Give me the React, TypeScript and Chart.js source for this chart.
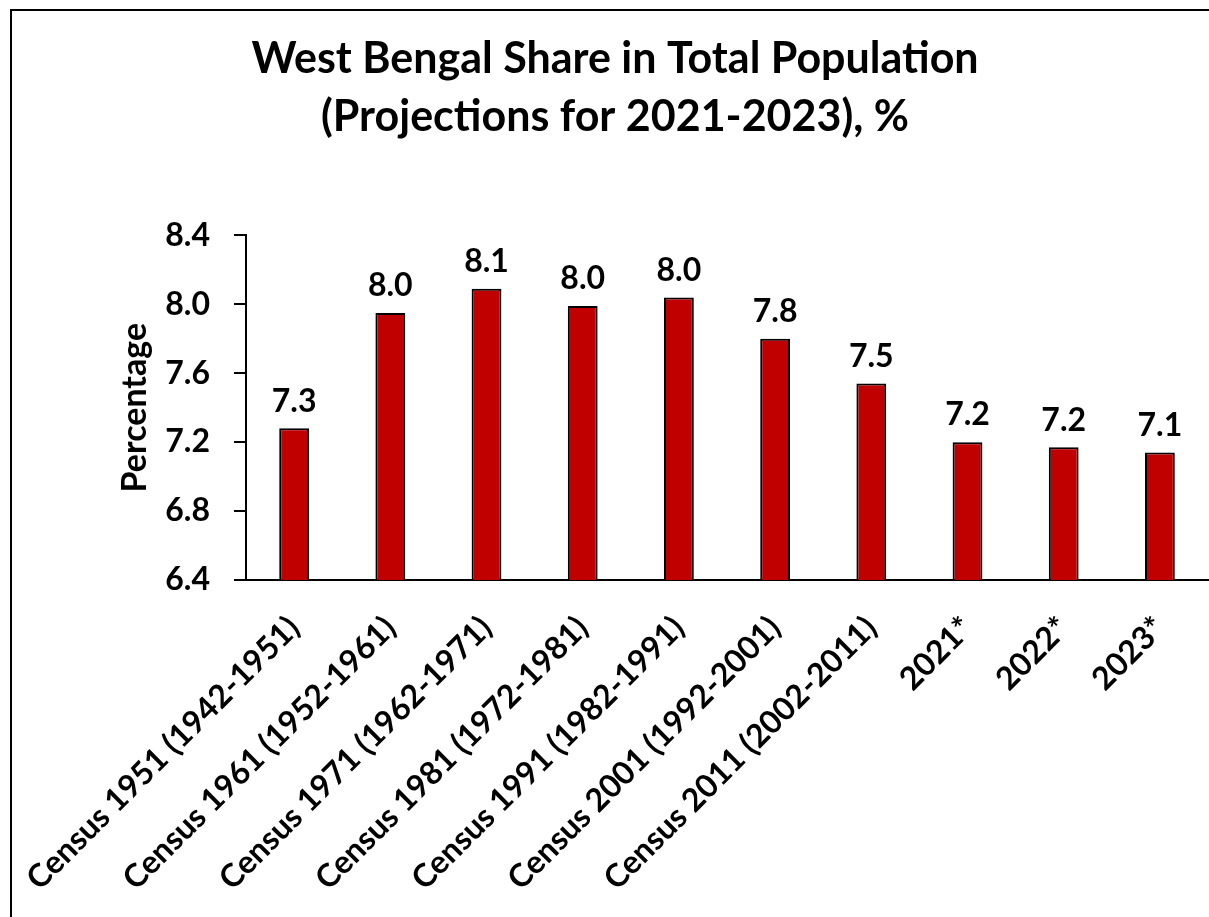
import React, { useEffect, useRef } from "react";
import { Chart, registerables } from "chart.js";

Chart.register(...registerables);

const categories = [
  "Census 1951 (1942-1951)",
  "Census 1961 (1952-1961)",
  "Census 1971 (1962-1971)",
  "Census 1981 (1972-1981)",
  "Census 1991 (1982-1991)",
  "Census 2001 (1992-2001)",
  "Census 2011 (2002-2011)",
  "2021*",
  "2022*",
  "2023*",
];
const shareValues = [7.28, 7.95, 8.09, 7.99, 8.04, 7.8, 7.54, 7.2, 7.17, 7.14];
const yMin = 6.4;
const yMax = 8.4;
const yStep = 0.4;
const titleLines = ["West Bengal Share in Total Population", "(Projections for 2021-2023), %"];
const yAxisTitle = "Percentage";

const FONT = "Lato, 'Open Sans', sans-serif";

const valueLabels = {
  id: "valueLabels",
  afterDatasetsDraw(chart: any) {
    const ctx = chart.ctx;
    const meta = chart.getDatasetMeta(0);
    const data = chart.data.datasets[0].data as number[];
    ctx.save();
    ctx.font = `bold 32px ${FONT}`;
    ctx.fillStyle = "#000";
    ctx.textAlign = "center";
    ctx.textBaseline = "bottom";
    meta.data.forEach((bar: any, i: number) => {
      ctx.fillText(Number(data[i]).toFixed(1), bar.x, bar.y - 11);
    });
    ctx.restore();
  },
};

export default function App() {
  const ref = useRef<HTMLCanvasElement | null>(null);
  useEffect(() => {
    if (!ref.current) return;
    const chart = new Chart(ref.current, {
      type: "bar",
      data: {
        labels: categories,
        datasets: [
          {
            data: shareValues,
            backgroundColor: "#C00000",
            borderColor: "#000",
            borderWidth: 2,
            barPercentage: 0.31,
            categoryPercentage: 1,
          },
        ],
      },
      options: {
        responsive: false,
        animation: false,
        devicePixelRatio: 1,
        layout: { padding: { left: 22, right: 1, top: 0, bottom: 0 } },
        plugins: {
          legend: { display: false },
          tooltip: { enabled: false },
          title: {
            display: true,
            text: titleLines,
            color: "#000",
            font: { family: FONT, size: 43, weight: "bold", lineHeight: 1.33 },
            padding: { top: 31, bottom: 90 },
          },
        },
        scales: {
          x: {
            grid: { display: false },
            border: { display: true, color: "#000", width: 2 },
            ticks: {
              color: "#000",
              font: { family: FONT, size: 32, weight: "bold" },
              minRotation: 45,
              maxRotation: 45,
              autoSkip: false,
              padding: 21,
            },
            afterFit(scale: any) {
              scale.height = 917 - 580;
            },
          },
          y: {
            min: yMin,
            max: yMax,
            grid: { drawOnChartArea: false, drawTicks: true, tickLength: 12, color: "#000", lineWidth: 2 },
            border: { display: true, color: "#000", width: 2 },
            ticks: {
              stepSize: yStep,
              color: "#000",
              padding: 24,
              font: { family: FONT, size: 32, weight: "bold" },
              callback: (v: any) => Number(v).toFixed(1),
            },
            title: {
              display: true,
              text: yAxisTitle,
              color: "#000",
              font: { family: FONT, size: 34, weight: "bold", lineHeight: 1.2 },
              padding: { top: 78, bottom: 0 },
            },
            afterFit(scale: any) {
              scale.width = 231 - 22;
            },
          },
        },
      },
      plugins: [valueLabels],
    });
    return () => chart.destroy();
  }, []);

  return (
    <div style={{ position: "absolute", left: 0, top: 0, width: 1209, height: 917, overflow: "hidden", background: "#fff" }}>
      <div
        style={{
          position: "absolute",
          left: 10,
          top: 9,
          width: 1199,
          height: 908,
          borderTop: "2px solid #000",
          borderLeft: "2px solid #000",
        }}
      />
      <canvas ref={ref} width={1209} height={917} style={{ position: "absolute", left: 0, top: 0, width: 1209, height: 917 }} />
    </div>
  );
}
